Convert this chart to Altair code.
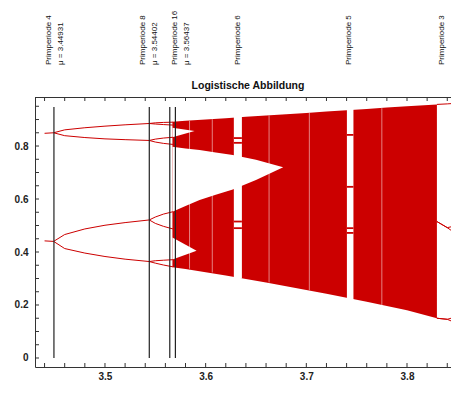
import altair as alt
import pandas as pd

RED = "#cc0000"
FONT = "Liberation Sans"

# ---------------- values ----------------
# period-doubling cascade (mu, x*)
mu_p2 = [3.440, 3.449]
p2_upper = [0.848, 0.850]
p2_lower = [0.442, 0.440]

mu_p4 = [3.449, 3.46, 3.48, 3.50, 3.52, 3.544]
p4_a = [0.850, 0.861, 0.869, 0.875, 0.880, 0.885]
p4_b = [0.850, 0.839, 0.832, 0.827, 0.824, 0.821]
p4_c = [0.440, 0.466, 0.487, 0.501, 0.511, 0.521]
p4_d = [0.440, 0.413, 0.396, 0.383, 0.373, 0.364]

mu_p8 = [3.544, 3.550, 3.558, 3.5675]
p8_a1 = [0.885, 0.8875, 0.889, 0.890]
p8_a2 = [0.885, 0.883, 0.881, 0.879]
p8_b1 = [0.821, 0.826, 0.830, 0.833]
p8_b2 = [0.821, 0.815, 0.810, 0.806]
p8_c1 = [0.521, 0.532, 0.543, 0.552]
p8_c2 = [0.521, 0.508, 0.497, 0.487]
p8_d1 = [0.364, 0.367, 0.369, 0.371]
p8_d2 = [0.364, 0.358, 0.351, 0.344]

# period-3 window at the right edge
mu_p3 = [3.8297, 3.8400, 3.8437]
p3_top = [0.957, 0.959, 0.960]
p3_mid_a = [0.515, 0.492, 0.495]
p3_mid_b = [0.515, 0.492, 0.482]
p3_low_a = [0.150, 0.146, 0.150]
p3_low_b = [0.150, 0.146, 0.140]

# chaotic envelope
env_mu = [3.567, 3.58, 3.60, 3.62, 3.64, 3.66, 3.68, 3.70, 3.72, 3.74, 3.76, 3.78, 3.80, 3.8297]
env_lo = [0.342, 0.336, 0.324, 0.311, 0.298, 0.285, 0.271, 0.257, 0.242, 0.227, 0.212, 0.196, 0.180, 0.150]
env_hi = [0.892, 0.895, 0.900, 0.905, 0.910, 0.915, 0.920, 0.925, 0.930, 0.935, 0.940, 0.945, 0.950, 0.957]

# white gaps between the chaotic bands
gap_big_mu = [3.567, 3.58, 3.594, 3.61, 3.627, 3.65, 3.677]
gap_big_lo = [0.552, 0.574, 0.596, 0.616, 0.636, 0.672, 0.720]
gap_big_hi = [0.797, 0.791, 0.785, 0.776, 0.766, 0.748, 0.720]
gap_up_mu = [3.567, 3.589]
gap_up_lo = [0.833, 0.857]
gap_up_hi = [0.869, 0.857]
gap_low_mu = [3.567, 3.591]
gap_low_lo = [0.372, 0.405]
gap_low_hi = [0.455, 0.405]

# periodic windows inside the chaos
win_start = [3.628, 3.7403]
win_end = [3.636, 3.7468]
win_lo = [0.300, 0.218]
win_hi = [0.912, 0.940]
win6_orbit = [0.830, 0.812, 0.515, 0.490]
win5_orbit = [0.842, 0.646, 0.490, 0.472]

# faint white lines in the chaos
faint_mu = [3.584, 3.6066, 3.663, 3.703, 3.775]
faint_lo = [0.337, 0.323, 0.285, 0.256, 0.200]
faint_hi = [0.895, 0.901, 0.915, 0.925, 0.943]

# marked parameter values
vline_mu = [3.44931, 3.54402, 3.56437, 3.56995]
vline_lo = [0.0, 0.0, 0.0, 0.0]
vline_hi = [0.947, 0.947, 0.947, 0.947]

label_mu = [3.4444, 3.5378, 3.5691, 3.632, 3.7424, 3.8349]
label_text = ["Primperiode 4\nμ = 3.44931", "Primperiode 8\nμ = 3.54402",
              "Primperiode 16\nμ = 3.56437", "Primperiode 6", "Primperiode 5", "Primperiode 3"]

x_ticks = [3.44, 3.46, 3.48, 3.50, 3.52, 3.54, 3.56, 3.58, 3.60, 3.62, 3.64, 3.66,
           3.68, 3.70, 3.72, 3.74, 3.76, 3.78, 3.80, 3.82, 3.84]
y_ticks = [0.0, 0.05, 0.1, 0.15, 0.2, 0.25, 0.3, 0.35, 0.4, 0.45, 0.5, 0.55,
           0.6, 0.65, 0.7, 0.75, 0.8, 0.85, 0.9, 0.95]
x_labels = [3.5, 3.6, 3.7, 3.8]
y_labels = [0.0, 0.2, 0.4, 0.6, 0.8]

TITLE = "Logistische Abbildung"
X_TITLE = "μ"
X_DOMAIN = [3.4305, 3.8437]
Y_DOMAIN = [-0.034, 0.985]
W, H = 416, 270

# ---------------- tables ----------------
branch_rows = []
def add_branch(name, mus, vals):
    for m, v in zip(mus, vals):
        branch_rows.append({"branch": name, "mu": m, "x": v})

add_branch("p2u", mu_p2, p2_upper)
add_branch("p2l", mu_p2, p2_lower)
for nm, vals in [("a", p4_a), ("b", p4_b), ("c", p4_c), ("d", p4_d)]:
    add_branch("p4" + nm, mu_p4, vals)
for nm, vals in [("a1", p8_a1), ("a2", p8_a2), ("b1", p8_b1), ("b2", p8_b2),
                 ("c1", p8_c1), ("c2", p8_c2), ("d1", p8_d1), ("d2", p8_d2)]:
    add_branch("p8" + nm, mu_p8, vals)
for nm, vals in [("t", p3_top), ("ma", p3_mid_a), ("mb", p3_mid_b),
                 ("la", p3_low_a), ("lb", p3_low_b)]:
    add_branch("p3" + nm, mu_p3, vals)
branches = pd.DataFrame(branch_rows)

env = pd.DataFrame({"mu": env_mu, "lo": env_lo, "hi": env_hi})

gap_rows = []
for name, mus, los, his in [("big", gap_big_mu, gap_big_lo, gap_big_hi),
                            ("up", gap_up_mu, gap_up_lo, gap_up_hi),
                            ("low", gap_low_mu, gap_low_lo, gap_low_hi)]:
    for m, lo, hi in zip(mus, los, his):
        gap_rows.append({"gap": name, "mu": m, "lo": lo, "hi": hi})
gaps = pd.DataFrame(gap_rows)

wins = pd.DataFrame({"s": win_start, "e": win_end, "lo": win_lo, "hi": win_hi})
orbit_rows = []
for i, orbit in enumerate([win6_orbit, win5_orbit]):
    for v in orbit:
        orbit_rows.append({"s": win_start[i], "e": win_end[i], "v": v})
orbits = pd.DataFrame(orbit_rows)

faint = pd.DataFrame({"mu": faint_mu, "lo": faint_lo, "hi": faint_hi})
vlines = pd.DataFrame({"mu": vline_mu, "lo": vline_lo, "hi": vline_hi})
labels = pd.DataFrame({"mu": label_mu, "text": label_text})
xt = pd.DataFrame({"t": x_ticks})
yt = pd.DataFrame({"t": y_ticks})

xs = alt.Scale(domain=X_DOMAIN, nice=False, zero=False)
ys = alt.Scale(domain=Y_DOMAIN, nice=False, zero=False)

XAXIS = alt.Axis(values=x_labels, format=".1f", ticks=False, tickSize=0,
                 grid=False, labelPadding=4, titlePadding=1, titleFontSize=11)
YAXIS = alt.Axis(values=y_labels, ticks=False, tickSize=0, grid=False, labelPadding=7,
                 labelExpr="datum.value == 0 ? '0' : format(datum.value, '.1f')")

def X(f):
    return alt.X(f, type="quantitative", scale=xs, axis=XAXIS, title=X_TITLE)

def Y(f):
    return alt.Y(f, type="quantitative", scale=ys, axis=YAXIS, title=None)

# ---------------- layers ----------------
envelope = alt.Chart(env).mark_area(color=RED, opacity=1).encode(
    x=X("mu"), y=Y("lo"), y2="hi")

gap_layer = alt.Chart(gaps).mark_area(color="white", opacity=1).encode(
    x=X("mu"), y=Y("lo"), y2="hi", detail="gap:N")

win_layer = alt.Chart(wins).mark_rect(color="white", opacity=1).encode(
    x=X("s"), x2="e", y=Y("lo"), y2="hi")

faint_layer = alt.Chart(faint).mark_rule(color="white", opacity=0.5, strokeWidth=1).encode(
    x=X("mu"), y=Y("lo"), y2="hi")

orbit_layer = alt.Chart(orbits).mark_rule(color=RED, strokeWidth=1.8).encode(
    x=X("s"), x2="e", y=Y("v"))

branch_layer = alt.Chart(branches).mark_line(color=RED, strokeWidth=1).encode(
    x=X("mu"), y=Y("x"), detail="branch:N", order="mu:Q")

vline_layer = alt.Chart(vlines).mark_rule(color="#222222", strokeWidth=1.2).encode(
    x=X("mu"), y=Y("lo"), y2="hi")

label_layer = alt.Chart(labels).mark_text(
    angle=270, align="left", baseline="middle", lineBreak="\n", lineHeight=12,
    font=FONT, fontSize=8, color="#111111").encode(
    x=X("mu"), y=alt.value(-32), text="text:N")

title_layer = alt.Chart(pd.DataFrame({"t": [TITLE]})).mark_text(
    font=FONT, fontSize=10.5, fontWeight="bold", color="#111111",
    align="center", baseline="alphabetic").encode(
    x=alt.value(213), y=alt.value(-8), text="t:N")

tick_bottom = alt.Chart(xt).mark_rule(color="#333333", strokeWidth=1).encode(
    x=X("t"), y=alt.value(H), y2=alt.value(H - 4))
tick_top = alt.Chart(xt).mark_rule(color="#333333", strokeWidth=1).encode(
    x=X("t"), y=alt.value(0), y2=alt.value(4))
tick_left = alt.Chart(yt).mark_rule(color="#333333", strokeWidth=1).encode(
    y=Y("t"), x=alt.value(0), x2=alt.value(4))
top_border = alt.Chart(xt).mark_rule(color="#333333", strokeWidth=1).encode(
    x=alt.value(0), x2=alt.value(W), y=alt.value(0.5))

chart = alt.layer(
    envelope, gap_layer, win_layer, faint_layer, orbit_layer, branch_layer,
    vline_layer, label_layer, title_layer, tick_bottom, tick_top, tick_left, top_border,
).properties(
    width=W, height=H,
    autosize=alt.AutoSizeParams(type="none"),
    padding={"left": 27, "top": 89, "right": 0, "bottom": 13},
).configure_view(strokeWidth=0).configure_axis(
    domainColor="#333333", domainWidth=1,
    labelFont=FONT, labelFontSize=10, labelFontWeight="bold", labelColor="#222222",
    titleFont=FONT, titleFontWeight="normal", titleColor="#222222",
)

chart.save("out.html", embed_options={"renderer": "svg", "actions": False})
